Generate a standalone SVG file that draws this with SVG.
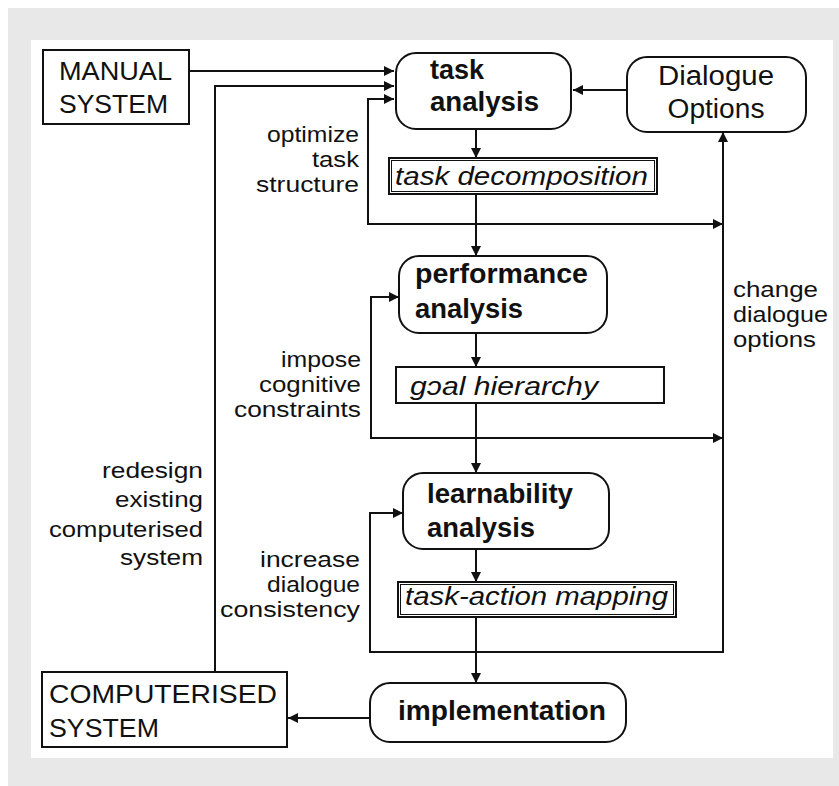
<svg xmlns="http://www.w3.org/2000/svg" width="839" height="786" viewBox="0 0 839 786">
  <defs>
    <marker id="arrow" viewBox="0 0 10 10" refX="10" refY="5" markerWidth="10" markerHeight="10" markerUnits="userSpaceOnUse" orient="auto">
      <path d="M0,0 L10,5 L0,10 Z" fill="#111"/>
    </marker>
    <style>
      .box { fill: #fff; stroke: #111; stroke-width: 2; }
      .inner { fill: none; stroke: #111; stroke-width: 1; }
      .wire { fill: none; stroke: #111; stroke-width: 2; }
      .arr { marker-end: url(#arrow); }
      text { font-family: "Liberation Sans", Arial, sans-serif; fill: #111; }
      .sys { font-size: 26px; }
      .step { font-size: 27px; font-weight: bold; }
      .opt { font-size: 27px; }
      .prod { font-size: 26px; font-style: italic; }
      .lbl { font-size: 22px; }
      .lbl-r { font-size: 22px; text-anchor: end; }
    </style>
  </defs>

  <!-- page background -->
  <rect x="0" y="0" width="839" height="786" fill="#fff"/>
  <rect x="8" y="8" width="831" height="778" fill="#e8e8e8"/>
  <rect x="31" y="40" width="802" height="718" fill="#fff"/>

  <!-- connectors -->
  <g id="connectors">
    <path class="wire arr" d="M189,71 H394"/>
    <path class="wire arr" d="M215,672 V86 H394"/>
    <path class="wire arr" d="M627,90 H573"/>
    <path class="wire arr" d="M476,129 V158"/>
    <path class="wire arr" d="M476,194 V256"/>
    <path class="wire arr" d="M476,224 H368 V99 H394"/>
    <path class="wire arr" d="M476,224 H723"/>
    <path class="wire arr" d="M476,333 V367"/>
    <path class="wire arr" d="M476,403 V473"/>
    <path class="wire arr" d="M476,438 H371 V297 H399"/>
    <path class="wire arr" d="M476,438 H723"/>
    <path class="wire arr" d="M476,549 V582"/>
    <path class="wire arr" d="M476,617 V683"/>
    <path class="wire arr" d="M476,652 H370 V513 H403"/>
    <path class="wire arr" d="M476,652 H723 V132"/>
    <path class="wire arr" d="M370,718 H288"/>
  </g>

  <!-- edge labels -->
  <g id="labels">
    <text class="lbl-r" x="359" y="142" textLength="92" lengthAdjust="spacingAndGlyphs">optimize</text>
    <text class="lbl-r" x="359" y="167" textLength="47" lengthAdjust="spacingAndGlyphs">task</text>
    <text class="lbl-r" x="359" y="192" textLength="103" lengthAdjust="spacingAndGlyphs">structure</text>
    <text class="lbl" x="733" y="297" textLength="85" lengthAdjust="spacingAndGlyphs">change</text>
    <text class="lbl" x="733" y="322" textLength="95" lengthAdjust="spacingAndGlyphs">dialogue</text>
    <text class="lbl" x="733" y="347" textLength="83" lengthAdjust="spacingAndGlyphs">options</text>
    <text class="lbl-r" x="361" y="367" textLength="80" lengthAdjust="spacingAndGlyphs">impose</text>
    <text class="lbl-r" x="361" y="392" textLength="102" lengthAdjust="spacingAndGlyphs">cognitive</text>
    <text class="lbl-r" x="361" y="417" textLength="127" lengthAdjust="spacingAndGlyphs">constraints</text>
    <text class="lbl-r" x="203" y="478" textLength="101" lengthAdjust="spacingAndGlyphs">redesign</text>
    <text class="lbl-r" x="203" y="507" textLength="88" lengthAdjust="spacingAndGlyphs">existing</text>
    <text class="lbl-r" x="203" y="537" textLength="154" lengthAdjust="spacingAndGlyphs">computerised</text>
    <text class="lbl-r" x="203" y="565" textLength="83" lengthAdjust="spacingAndGlyphs">system</text>
    <text class="lbl-r" x="360" y="567" textLength="100" lengthAdjust="spacingAndGlyphs">increase</text>
    <text class="lbl-r" x="360" y="592" textLength="93" lengthAdjust="spacingAndGlyphs">dialogue</text>
    <text class="lbl-r" x="360" y="617" textLength="140" lengthAdjust="spacingAndGlyphs">consistency</text>
  </g>

  <!-- nodes -->
  <g id="manual-system">
    <rect class="box" x="43" y="50" width="146" height="74"/>
    <text class="sys" x="59" y="80" textLength="113" lengthAdjust="spacingAndGlyphs">MANUAL</text>
    <text class="sys" x="59" y="113" textLength="109" lengthAdjust="spacingAndGlyphs">SYSTEM</text>
  </g>

  <g id="task-analysis">
    <rect class="box" x="396" y="53" width="175" height="76" rx="20"/>
    <text class="step" x="430" y="79">task</text>
    <text class="step" x="430" y="111" textLength="109" lengthAdjust="spacingAndGlyphs">analysis</text>
  </g>

  <g id="dialogue-options">
    <rect class="box" x="627" y="57" width="179" height="75" rx="20"/>
    <text class="opt" x="716" y="85" text-anchor="middle" textLength="116" lengthAdjust="spacingAndGlyphs">Dialogue</text>
    <text class="opt" x="716" y="118" text-anchor="middle" textLength="97" lengthAdjust="spacingAndGlyphs">Options</text>
  </g>

  <g id="task-decomposition">
    <rect class="box" x="389" y="158" width="268" height="36"/>
    <rect class="inner" x="391.5" y="160.5" width="263" height="31"/>
    <text class="prod" x="395" y="185" textLength="253" lengthAdjust="spacingAndGlyphs">task decomposition</text>
  </g>

  <g id="performance-analysis">
    <rect class="box" x="399" y="256" width="208" height="77" rx="20"/>
    <text class="step" x="415" y="283" textLength="173" lengthAdjust="spacingAndGlyphs">performance</text>
    <text class="step" x="415" y="318" textLength="108" lengthAdjust="spacingAndGlyphs">analysis</text>
  </g>

  <g id="goal-hierarchy">
    <rect class="box" x="396" y="367" width="268" height="36"/>
    <text class="prod" x="410" y="395" textLength="188" lengthAdjust="spacingAndGlyphs">gɔal hierarchy</text>
  </g>

  <g id="learnability-analysis">
    <rect class="box" x="403" y="473" width="206" height="76" rx="20"/>
    <text class="step" x="427" y="503" textLength="146" lengthAdjust="spacingAndGlyphs">learnability</text>
    <text class="step" x="427" y="537" textLength="108" lengthAdjust="spacingAndGlyphs">analysis</text>
  </g>

  <g id="task-action-mapping">
    <rect class="box" x="398" y="582" width="278" height="35"/>
    <rect class="inner" x="400.5" y="584.5" width="273" height="30"/>
    <text class="prod" x="405" y="605" textLength="263" lengthAdjust="spacingAndGlyphs">task-action mapping</text>
  </g>

  <g id="implementation">
    <rect class="box" x="370" y="683" width="256" height="59" rx="20"/>
    <text class="step" x="398" y="720" textLength="208" lengthAdjust="spacingAndGlyphs">implementation</text>
  </g>

  <g id="computerised-system">
    <rect class="box" x="42" y="672" width="245" height="75"/>
    <text class="sys" x="49" y="703" textLength="228" lengthAdjust="spacingAndGlyphs">COMPUTERISED</text>
    <text class="sys" x="49" y="737" textLength="110" lengthAdjust="spacingAndGlyphs">SYSTEM</text>
  </g>
</svg>
